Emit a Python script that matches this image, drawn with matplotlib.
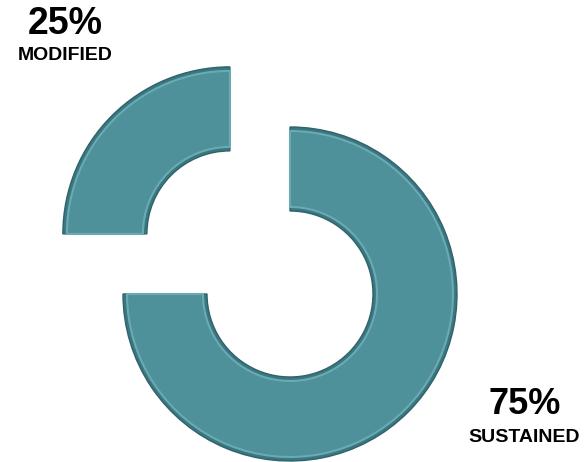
import matplotlib
matplotlib.use("Agg")
import matplotlib.pyplot as plt

categories = ["SUSTAINED", "MODIFIED"]
values = [75, 25]
labels_pct = ["75%", "25%"]

W, H = 587, 462
fig = plt.figure(figsize=(W / 100, H / 100), dpi=100)
ax = fig.add_axes([0, 0, 1, 1])

cx, cy = 290, H - 294
R = 167
ring = 84
explode = [0, 85]

# bevel rim layer
ax.pie(values, radius=R, center=(cx, cy), startangle=90, counterclock=False,
       explode=explode, colors=["#3B7780", "#3B7780"],
       wedgeprops=dict(width=ring, edgecolor="#2F626A", linewidth=1.0))
# main face (inset)
ax.pie(values, radius=R - 4, center=(cx, cy), startangle=90, counterclock=False,
       explode=explode, colors=["#4E919B", "#4E919B"],
       wedgeprops=dict(width=ring - 8, edgecolor="#6AAAB3", linewidth=1.5))

ax.set_xlim(0, W)
ax.set_ylim(0, H)
ax.set_aspect("equal")
ax.axis("off")

fam = ["Liberation Sans", "DejaVu Sans"]
ax.text(65, H - 24, labels_pct[1], ha="center", va="center", fontsize=27,
        fontweight="bold", family=fam)
ax.text(65, H - 56, categories[1], ha="center", va="center", fontsize=14,
        fontweight="bold", family=fam)
ax.text(525, H - 405, labels_pct[0], ha="center", va="center", fontsize=26,
        fontweight="bold", family=fam)
ax.text(524, H - 437, categories[0], ha="center", va="center", fontsize=14,
        fontweight="bold", family=fam)

fig.savefig("out.png", dpi=100)
